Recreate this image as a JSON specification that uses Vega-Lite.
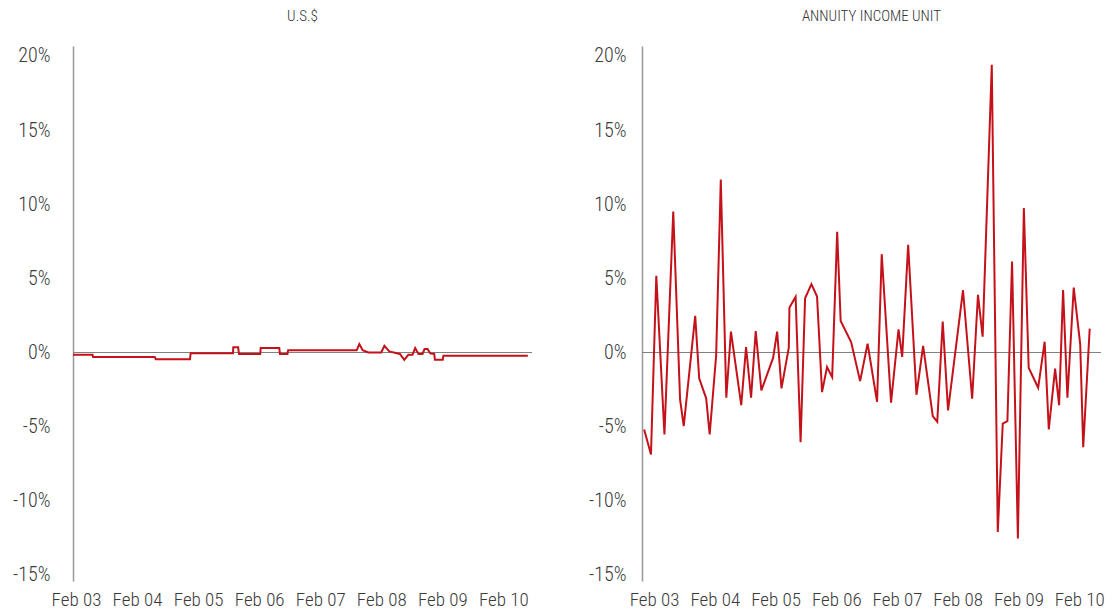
{
  "$schema": "https://vega.github.io/schema/vega-lite/v6.json",
  "background": "white",
  "padding": {"left": 12, "top": 8, "right": 5, "bottom": 5},
  "spacing": 55,
  "config": {
    "view": {"stroke": null},
    "font": "'Roboto Condensed', 'DejaVu Sans Condensed', Roboto, sans-serif",
    "title": {"font": "'Roboto Condensed', 'DejaVu Sans Condensed', Roboto, sans-serif", "fontSize": 15, "fontWeight": 300, "color": "#333333", "offset": 22},
    "axis": {"labelFont": "'Roboto Condensed', 'DejaVu Sans Condensed', Roboto, sans-serif", "labelFontSize": 19, "labelFontWeight": 300, "labelColor": "#3a3a3a", "grid": false, "ticks": false, "title": null}
  },
  "datasets": {
    "usd": [
      {"date": "2003-01-14", "v": -0.15},
      {"date": "2003-05-11", "v": -0.15},
      {"date": "2003-05-14", "v": -0.3},
      {"date": "2004-05-17", "v": -0.3},
      {"date": "2004-05-23", "v": -0.45},
      {"date": "2004-12-14", "v": -0.45},
      {"date": "2004-12-18", "v": -0.05},
      {"date": "2005-08-28", "v": -0.05},
      {"date": "2005-08-30", "v": 0.35},
      {"date": "2005-09-28", "v": 0.35},
      {"date": "2005-10-03", "v": -0.1},
      {"date": "2006-02-07", "v": -0.1},
      {"date": "2006-02-10", "v": 0.3},
      {"date": "2006-06-01", "v": 0.3},
      {"date": "2006-06-05", "v": -0.1},
      {"date": "2006-07-20", "v": -0.1},
      {"date": "2006-07-24", "v": 0.15},
      {"date": "2007-09-07", "v": 0.15},
      {"date": "2007-09-23", "v": 0.57},
      {"date": "2007-10-13", "v": 0.16},
      {"date": "2007-11-16", "v": 0.0},
      {"date": "2008-02-01", "v": 0.0},
      {"date": "2008-02-20", "v": 0.45},
      {"date": "2008-03-20", "v": 0.07},
      {"date": "2008-05-23", "v": -0.1},
      {"date": "2008-06-18", "v": -0.49},
      {"date": "2008-07-12", "v": -0.16},
      {"date": "2008-08-06", "v": -0.16},
      {"date": "2008-08-22", "v": 0.3},
      {"date": "2008-09-11", "v": -0.1},
      {"date": "2008-10-05", "v": -0.1},
      {"date": "2008-10-17", "v": 0.23},
      {"date": "2008-11-04", "v": 0.23},
      {"date": "2008-11-20", "v": -0.06},
      {"date": "2008-12-14", "v": -0.1},
      {"date": "2008-12-18", "v": -0.49},
      {"date": "2009-02-03", "v": -0.49},
      {"date": "2009-02-07", "v": -0.22},
      {"date": "2010-06-27", "v": -0.22}
    ],
    "aiu": [
      {"date": "2002-12-03", "v": -5.19},
      {"date": "2003-01-13", "v": -6.88},
      {"date": "2003-02-14", "v": 5.17},
      {"date": "2003-04-04", "v": -5.53},
      {"date": "2003-05-27", "v": 9.51},
      {"date": "2003-07-07", "v": -3.16},
      {"date": "2003-07-29", "v": -4.97},
      {"date": "2003-10-06", "v": 2.47},
      {"date": "2003-10-30", "v": -1.74},
      {"date": "2003-12-11", "v": -3.09},
      {"date": "2004-01-01", "v": -5.53},
      {"date": "2004-02-09", "v": -0.2},
      {"date": "2004-03-08", "v": 11.66},
      {"date": "2004-04-10", "v": -3.05},
      {"date": "2004-05-08", "v": 1.41},
      {"date": "2004-07-09", "v": -3.55},
      {"date": "2004-08-07", "v": 0.37},
      {"date": "2004-09-06", "v": -3.05},
      {"date": "2004-10-04", "v": 1.45},
      {"date": "2004-11-07", "v": -2.56},
      {"date": "2005-01-17", "v": -0.35},
      {"date": "2005-02-10", "v": 1.41},
      {"date": "2005-03-08", "v": -2.42},
      {"date": "2005-04-21", "v": 0.33},
      {"date": "2005-04-25", "v": 3.03},
      {"date": "2005-06-01", "v": 3.75},
      {"date": "2005-07-01", "v": -6.05},
      {"date": "2005-07-28", "v": 3.66},
      {"date": "2005-09-04", "v": 4.61},
      {"date": "2005-10-08", "v": 3.77},
      {"date": "2005-11-07", "v": -2.67},
      {"date": "2005-12-07", "v": -0.98},
      {"date": "2006-01-07", "v": -1.66},
      {"date": "2006-02-06", "v": 8.14},
      {"date": "2006-02-27", "v": 2.13},
      {"date": "2006-05-01", "v": 0.71},
      {"date": "2006-06-24", "v": -1.93},
      {"date": "2006-08-08", "v": 0.6},
      {"date": "2006-10-04", "v": -3.32},
      {"date": "2006-11-01", "v": 6.63},
      {"date": "2006-12-27", "v": -3.39},
      {"date": "2007-02-10", "v": 1.56},
      {"date": "2007-03-04", "v": -0.3},
      {"date": "2007-04-09", "v": 7.26},
      {"date": "2007-05-29", "v": -2.85},
      {"date": "2007-07-08", "v": 0.44},
      {"date": "2007-09-04", "v": -4.29},
      {"date": "2007-10-01", "v": -4.67},
      {"date": "2007-11-03", "v": 2.08},
      {"date": "2007-12-05", "v": -3.91},
      {"date": "2008-03-04", "v": 4.2},
      {"date": "2008-04-28", "v": -3.12},
      {"date": "2008-06-02", "v": 3.89},
      {"date": "2008-06-30", "v": 1.07},
      {"date": "2008-08-24", "v": 19.4},
      {"date": "2008-09-29", "v": -12.1},
      {"date": "2008-10-29", "v": -4.79},
      {"date": "2008-11-26", "v": -4.63},
      {"date": "2008-12-24", "v": 6.14},
      {"date": "2009-01-28", "v": -12.55},
      {"date": "2009-03-05", "v": 9.74},
      {"date": "2009-04-03", "v": -1.03},
      {"date": "2009-05-30", "v": -2.38},
      {"date": "2009-07-08", "v": 0.73},
      {"date": "2009-08-02", "v": -5.19},
      {"date": "2009-09-09", "v": -1.09},
      {"date": "2009-10-03", "v": -3.55},
      {"date": "2009-10-27", "v": 4.22},
      {"date": "2009-11-22", "v": -3.05},
      {"date": "2009-12-30", "v": 4.38},
      {"date": "2010-02-07", "v": 0.55},
      {"date": "2010-02-25", "v": -6.39},
      {"date": "2010-04-05", "v": 1.61}
    ]
  },
  "hconcat": [
    {
      "width": 459,
      "height": 535,
      "title": "U.S.$",
      "layer": [
        {
          "data": {"values": [{}]},
          "mark": {"type": "rule", "color": "#808080", "strokeWidth": 1},
          "encoding": {"y": {"datum": 0, "type": "quantitative"}}
        },
        {
          "data": {"name": "usd"},
          "mark": {"type": "line", "color": "#c4121a", "strokeWidth": 2},
          "encoding": {
            "x": {
              "field": "date", "type": "temporal",
              "scale": {"type": "utc", "domain": [{"year": 2003, "month": 1, "date": 14, "utc": true}, {"year": 2010, "month": 7, "date": 22, "utc": true}]},
              "axis": {
                "values": [
                  {"year": 2003, "month": 2, "date": 1, "utc": true},
                  {"year": 2004, "month": 2, "date": 1, "utc": true},
                  {"year": 2005, "month": 2, "date": 1, "utc": true},
                  {"year": 2006, "month": 2, "date": 1, "utc": true},
                  {"year": 2007, "month": 2, "date": 1, "utc": true},
                  {"year": 2008, "month": 2, "date": 1, "utc": true},
                  {"year": 2009, "month": 2, "date": 1, "utc": true},
                  {"year": 2010, "month": 2, "date": 1, "utc": true}
                ],
                "format": "%b %y", "labelFlush": false, "labelOverlap": false, "labelAngle": 0, "domain": false, "labelPadding": 9
              }
            },
            "y": {
              "field": "v", "type": "quantitative",
              "scale": {"domain": [-15.41, 20.67], "nice": false, "zero": false},
              "axis": {"values": [-15, -10, -5, 0, 5, 10, 15, 20], "labelExpr": "datum.value + '%'", "labelFontSize": 20, "domain": true, "domainColor": "#999999", "domainWidth": 1.5, "labelPadding": 23}
            }
          }
        }
      ]
    },
    {
      "width": 459,
      "height": 535,
      "title": "ANNUITY INCOME UNIT",
      "layer": [
        {
          "data": {"values": [{}]},
          "mark": {"type": "rule", "color": "#808080", "strokeWidth": 1},
          "encoding": {"y": {"datum": 0, "type": "quantitative"}}
        },
        {
          "data": {"name": "aiu"},
          "mark": {"type": "line", "color": "#c4121a", "strokeWidth": 2},
          "encoding": {
            "x": {
              "field": "date", "type": "temporal",
              "scale": {"type": "utc", "domain": [{"year": 2002, "month": 11, "date": 20, "utc": true}, {"year": 2010, "month": 6, "date": 12, "utc": true}]},
              "axis": {
                "values": [
                  {"year": 2003, "month": 2, "date": 1, "utc": true},
                  {"year": 2004, "month": 2, "date": 1, "utc": true},
                  {"year": 2005, "month": 2, "date": 1, "utc": true},
                  {"year": 2006, "month": 2, "date": 1, "utc": true},
                  {"year": 2007, "month": 2, "date": 1, "utc": true},
                  {"year": 2008, "month": 2, "date": 1, "utc": true},
                  {"year": 2009, "month": 2, "date": 1, "utc": true},
                  {"year": 2010, "month": 2, "date": 1, "utc": true}
                ],
                "format": "%b %y", "labelFlush": false, "labelOverlap": false, "labelAngle": 0, "domain": false, "labelPadding": 9
              }
            },
            "y": {
              "field": "v", "type": "quantitative",
              "scale": {"domain": [-15.41, 20.67], "nice": false, "zero": false},
              "axis": {"values": [-15, -10, -5, 0, 5, 10, 15, 20], "labelExpr": "datum.value + '%'", "labelFontSize": 20, "domain": true, "domainColor": "#999999", "domainWidth": 1.5, "labelPadding": 16}
            }
          }
        }
      ]
    }
  ]
}
